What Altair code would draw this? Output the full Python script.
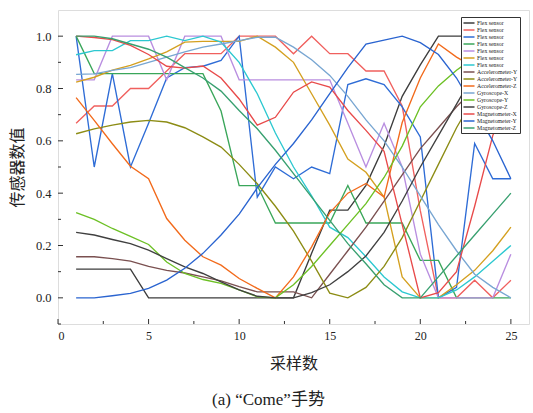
import altair as alt
import pandas as pd

x_vals = list(range(1, 26))

series_labels = [
    "Flex sensor", "Flex sensor", "Flex sensor", "Flex sensor", "Flex sensor",
    "Flex sensor", "Flex sensor", "Accelerometer-Y", "Accelerometer-Y",
    "Accelerometer-Z", "Gyroscope-X", "Gyroscope-Y", "Gyroscope-Z",
    "Magnetometer-X", "Magnetometer-Y", "Magnetometer-Z",
]

series_colors = [
    "#3c3c3c", "#f0605e", "#2e6cd6", "#3aa65a", "#b98ee0", "#d4a020",
    "#2cc8d0", "#7a5050", "#8c8c14", "#f26a1b", "#78a6d2", "#6cc024",
    "#404040", "#e84a4a", "#2a64d0", "#38a070",
]

flex1 = [0.11, 0.11, 0.11, 0.11, 0, 0, 0, 0, 0, 0, 0, 0, 0, 0.17, 0.335, 0.335,
         0.43, 0.58, 0.77, 0.89, 1.0, 1.0, 1.0, 1.0, 1.0]
flex2 = [0.667, 0.733, 0.733, 0.8, 0.8, 0.867, 0.933, 0.933, 0.933, 1.0, 1.0, 1.0,
         0.933, 1.0, 0.933, 0.933, 0.867, 0.867, 0.733, 0.333, 0.0, 0.0, 0.067, 0.0, 0.067]
flex3 = [1.0, 0.5, 0.857, 0.5, 0.667, 0.84, 0.88, 0.885, 0.907, 1.0, 0.385, 0.5,
         0.455, 0.5, 0.475, 0.815, 0.837, 0.815, 0.73, 0.615, 0.0, 0.04, 0.59, 0.455, 0.455]
flex4 = [1.0, 0.857, 0.857, 0.857, 0.857, 0.857, 0.857, 0.857, 0.714, 0.429, 0.429,
         0.286, 0.286, 0.286, 0.286, 0.429, 0.286, 0.286, 0.286, 0.143, 0.143, 0, 0, 0, 0]
flex5 = [0.833, 0.833, 1.0, 1.0, 1.0, 0.833, 1.0, 1.0, 1.0, 0.833, 0.833, 0.833,
         0.833, 0.833, 0.833, 0.667, 0.5, 0.667, 0.5, 0.167, 0, 0, 0, 0, 0.167]
flex6 = [0.824, 0.843, 0.87, 0.888, 0.913, 0.94, 0.977, 0.98, 0.98, 0.98, 1.0, 0.958,
         0.9, 0.78, 0.66, 0.53, 0.48, 0.385, 0.08, 0.0, 0.0, 0.05, 0.105, 0.18, 0.27]
flex7 = [0.929, 0.945, 0.945, 0.983, 0.983, 1.0, 0.983, 1.0, 0.977, 0.9, 0.78, 0.63,
         0.5, 0.39, 0.27, 0.23, 0.157, 0.08, 0.023, 0, 0, 0.03, 0.08, 0.14, 0.2]
acc_y1 = [0.157, 0.157, 0.15, 0.14, 0.12, 0.105, 0.095, 0.08, 0.065, 0.043, 0.023,
          0.023, 0.023, 0.0, 0.09, 0.18, 0.27, 0.37, 0.47, 0.57, 0.65, 0.73, 0.8, 0.87, 0.93]
acc_y2 = [0.627, 0.646, 0.66, 0.672, 0.678, 0.672, 0.65, 0.615, 0.576, 0.51, 0.436,
          0.35, 0.255, 0.14, 0.018, 0.0, 0.04, 0.12, 0.23, 0.37, 0.51, 0.65, 0.77, 0.87, 0.95]
acc_z = [0.765, 0.678, 0.589, 0.503, 0.455, 0.303, 0.22, 0.157, 0.125, 0.074, 0.036,
         0.0, 0.08, 0.195, 0.325, 0.4, 0.437, 0.385, 0.67, 0.84, 0.97, 0.92, 0.88, 0.85, 0.82]
gyro_x = [0.854, 0.856, 0.869, 0.88, 0.9, 0.92, 0.94, 0.958, 0.97, 0.983, 0.996, 0.996,
          0.958, 0.91, 0.85, 0.77, 0.68, 0.6, 0.5, 0.39, 0.28, 0.18, 0.09, 0.04, 0.0]
gyro_y = [0.326, 0.3, 0.265, 0.235, 0.204, 0.137, 0.093, 0.07, 0.055, 0.03, 0.004, 0.0,
          0.05, 0.12, 0.2, 0.28, 0.36, 0.46, 0.58, 0.73, 0.81, 0.87, 0.92, 0.96, 1.0]
gyro_z = [0.25, 0.24, 0.223, 0.207, 0.182, 0.15, 0.118, 0.093, 0.061, 0.03, 0.006, 0.0,
          0.0, 0.02, 0.05, 0.1, 0.16, 0.25, 0.37, 0.5, 0.62, 0.74, 0.86, 0.95, 1.0]
mag_x = [1.0, 0.995, 0.987, 0.965, 0.93, 0.885, 0.878, 0.886, 0.84, 0.76, 0.66, 0.69,
         0.786, 0.825, 0.805, 0.716, 0.64, 0.56, 0.28, 0.0, 0.02, 0.1, 0.35, 0.62, 0.8]
mag_y = [0.0, 0.0, 0.008, 0.017, 0.036, 0.068, 0.113, 0.17, 0.24, 0.32, 0.42, 0.51,
         0.59, 0.68, 0.78, 0.88, 0.97, 0.985, 1.0, 0.975, 0.93, 0.84, 0.72, 0.6, 0.455]
mag_z = [1.0, 1.0, 0.99, 0.97, 0.95, 0.92, 0.88, 0.84, 0.79, 0.716, 0.646, 0.564,
         0.475, 0.385, 0.296, 0.207, 0.13, 0.05, 0.0, 0.0, 0.08, 0.16, 0.24, 0.32, 0.4]

series_values = [flex1, flex2, flex3, flex4, flex5, flex6, flex7, acc_y1, acc_y2,
                 acc_z, gyro_x, gyro_y, gyro_z, mag_x, mag_y, mag_z]

x_ticks = [0, 5, 10, 15, 20, 25]
x_minor = [2.5, 7.5, 12.5, 17.5, 22.5]
y_ticks = [0.0, 0.2, 0.4, 0.6, 0.8, 1.0]
y_minor = [-0.1, 0.1, 0.3, 0.5, 0.7, 0.9]

keys = [f"{lab}|{i + 1}" for i, lab in enumerate(series_labels)]
rows = []
for k, vals in zip(keys, series_values):
    for xv, yv in zip(x_vals, vals):
        rows.append({"key": k, "x": xv, "v": yv})
df = pd.DataFrame(rows)

W, H = 471, 314
serif = "Liberation Serif"
cjk = "Noto Sans CJK SC"

xscale = alt.Scale(domain=[0, 26], nice=False, zero=False)
yscale = alt.Scale(domain=[-0.1, 1.1], nice=False, zero=False)

lines = alt.Chart(df).mark_line(strokeWidth=1.35).encode(
    x=alt.X("x:Q", scale=xscale,
            axis=alt.Axis(values=x_ticks, title="采样数", domain=False, ticks=False,
                          grid=False, labelFont=serif, labelFontSize=12,
                          labelColor="#222", labelPadding=6, titleFont=cjk,
                          titleFontSize=16, titleFontWeight="normal",
                          titleColor="#222", titlePadding=14)),
    y=alt.Y("v:Q", scale=yscale,
            axis=alt.Axis(values=y_ticks, format=".1f", title="传感器数值",
                          domain=False, ticks=False, grid=False, labelFont=serif,
                          labelFontSize=12.5, labelColor="#222", labelPadding=7,
                          titleFont=cjk, titleFontSize=16, titleFontWeight="normal",
                          titleColor="#222", titlePadding=10)),
    color=alt.Color("key:N", scale=alt.Scale(domain=keys, range=series_colors),
                    legend=alt.Legend(title=None, orient="none", legendX=403, legendY=7,
                                      labelExpr="split(datum.label, '|')[0]",
                                      symbolType="M-1.7,0H1.7", symbolSize=42,
                                      symbolStrokeWidth=1.5, labelFont=serif,
                                      labelFontSize=5.8, labelColor="#222",
                                      labelOffset=4, rowPadding=0, padding=2,
                                      symbolOffset=2, labelLimit=50,
                                      fillColor="white", strokeColor="#333")),
)

ymaj = alt.Chart(pd.DataFrame({"t": y_ticks})).mark_rule(color="#333", strokeWidth=1).encode(
    y=alt.Y("t:Q", scale=yscale), x=alt.value(0), x2=alt.value(5))
ymin = alt.Chart(pd.DataFrame({"t": y_minor})).mark_rule(color="#333", strokeWidth=1).encode(
    y=alt.Y("t:Q", scale=yscale), x=alt.value(0), x2=alt.value(3))
xmaj = alt.Chart(pd.DataFrame({"t": x_ticks})).mark_rule(color="#333", strokeWidth=1).encode(
    x=alt.X("t:Q", scale=xscale), y=alt.value(H), y2=alt.value(H - 5))
xmin = alt.Chart(pd.DataFrame({"t": x_minor})).mark_rule(color="#333", strokeWidth=1).encode(
    x=alt.X("t:Q", scale=xscale), y=alt.value(H), y2=alt.value(H - 3))

chart = alt.layer(lines, ymaj, ymin, xmaj, xmin).properties(
    width=W, height=H,
    autosize="none",
    padding={"left": 58, "top": 10, "right": 4, "bottom": 89},
    title=alt.TitleParams(text="(a)  “Come”手势", orient="bottom", anchor="middle",
                          dx=-25, offset=21, fontSize=17, font=f"{serif}, {cjk}",
                          fontWeight="normal", color="#222"),
).configure_view(stroke="#333", strokeWidth=1.5).configure_legend(
    strokeWidth=1).configure(background="white")

chart.save("out.html", embed_options={"renderer": "svg", "actions": False})
